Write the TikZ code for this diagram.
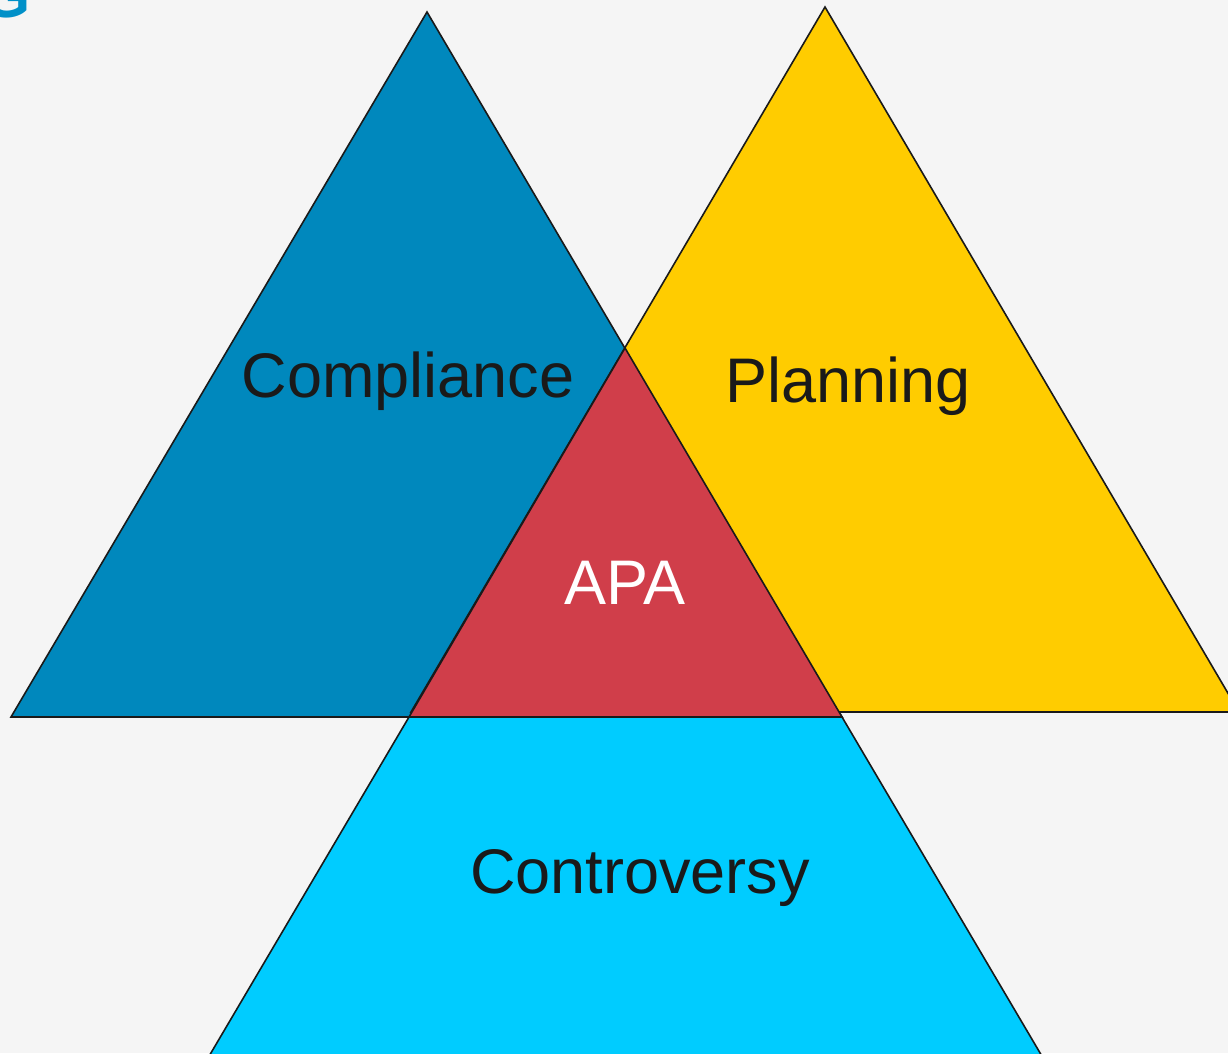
\documentclass[tikz,border=0pt]{standalone}
\usepackage{fontspec}
\setmainfont{Liberation Sans}
\definecolor{bg}{HTML}{F5F5F5}
\definecolor{cblue}{HTML}{0088BD}
\definecolor{cyellow}{HTML}{FFCC00}
\definecolor{cred}{HTML}{D03E4A}
\definecolor{ccyan}{HTML}{00CCFF}
\definecolor{ctext}{HTML}{1A1A1A}
\definecolor{gblue}{HTML}{0090C8}
\begin{document}
\begin{tikzpicture}[x=1pt,y=-1pt,
  shapeline/.style={draw=ctext,line width=1.6pt,line join=miter},
  label/.style={font=\fontsize{63}{70}\selectfont,text=ctext,inner sep=0pt,anchor=base}]
\useasboundingbox (0,0) rectangle (1228,1053);
\fill[bg] (0,0) rectangle (1228,1053);
\begin{scope}
\clip (0,0) rectangle (1228,1053);
\node[font=\fontsize{62}{70}\selectfont\bfseries,text=gblue,inner sep=0pt,anchor=base east] (g) at (31,17) {G};
% coordinates
\coordinate (bl) at (11,717);
\coordinate (bt) at (427,12);
\coordinate (br) at (842,717);
\coordinate (yl) at (411,712);
\coordinate (yt) at (825,7);
\coordinate (yr) at (1239,712);
\coordinate (rt) at (625,348);
\coordinate (rl) at (409,717);
\coordinate (rr) at (842,717);
\coordinate (cl) at (210,1053);
\coordinate (cr) at (1041,1053);
\coordinate (cl2) at (195,1080);
\coordinate (cr2) at (1056,1080);
% shapes
\filldraw[shapeline,fill=cblue] (bl) -- (bt) -- (br) -- cycle;
\filldraw[shapeline,fill=cyellow] (yl) -- (yt) -- (yr) -- cycle;
\filldraw[shapeline,fill=ccyan] (rl) -- (rr) -- (cr2) -- (cl2) -- cycle;
\filldraw[shapeline,fill=cred] (rl) -- (rt) -- (rr) -- cycle;
\end{scope}
% labels
\node[label] (compliance) at (408,397) {Compliance};
\node[label] (planning) at (848,402) {Planning};
\node[label,text=white] (apa) at (625,604) {APA};
\node[label] (controversy) at (640,893) {Controversy};
\end{tikzpicture}
\end{document}
